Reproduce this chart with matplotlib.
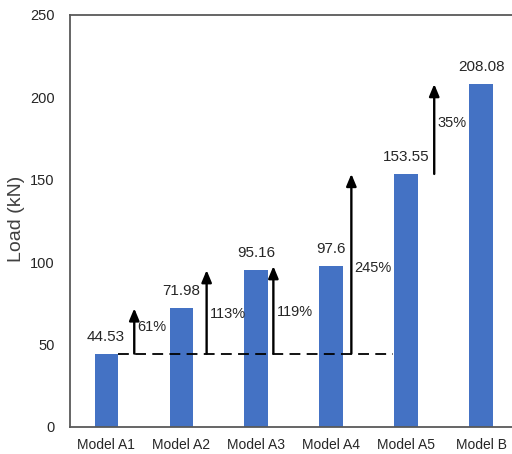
import numpy as np
import matplotlib.pyplot as plt

plt.rcParams['font.family'] = ['Liberation Sans', 'DejaVu Sans']

models = ['Model A1', 'Model A2', 'Model A3', 'Model A4', 'Model A5', 'Model B']
loads = [44.53, 71.98, 95.16, 97.6, 153.55, 208.08]
value_labels = ['44.53', '71.98', '95.16', '97.6', '153.55', '208.08']

# increase arrows: start value, end value, percent text
arrow_start = [44.53, 44.53, 44.53, 44.53, 153.55]
arrow_end = [71.98, 95.16, 97.6, 153.55, 208.08]
arrow_pct = ['61%', '113%', '119%', '245%', '35%']
arrow_dx = [0.375, 0.34, 0.23, 0.27, 0.375]
pct_y = [60.7, 68.6, 69.8, 96.5, 184.5]

x = np.arange(len(models))

fig = plt.figure(figsize=(5.12, 4.54), dpi=100)
ax = fig.add_axes([0.137, 0.0595, 0.87, 0.9075])

ax.bar(x, loads, width=0.31, color='#4472C4', zorder=2)
for xi, v, lab in zip(x, loads, value_labels):
    ax.text(xi, v + 6, lab, ha='center', va='bottom', fontsize=11, color='#262626')

# baseline at Model A1 load
ax.plot([x[0] + 0.155, x[4] - 0.17], [loads[0], loads[0]], ls=(0, (6, 3.5)),
        color='black', lw=1.3, zorder=3)

for i, (s, e, p, dx, py) in enumerate(zip(arrow_start, arrow_end, arrow_pct,
                                          arrow_dx, pct_y)):
    xa = x[i] + dx
    ax.annotate('', xy=(xa, e), xytext=(xa, s),
                arrowprops=dict(arrowstyle='-|>,head_length=0.6,head_width=0.25',
                                color='black', lw=1.7,
                                mutation_scale=12, shrinkA=0, shrinkB=0))
    ax.text(xa + 0.045, py, p, ha='left', va='center', fontsize=10.5,
            color='#262626')

ax.set_xlim(-0.48, 5.46)
ax.set_ylim(0, 250)
ax.set_yticks([0, 50, 100, 150, 200, 250])
ax.set_xticks(x)
ax.set_xticklabels(models)
ax.tick_params(axis='both', length=0, labelsize=10.5, colors='#262626')
ax.tick_params(axis='y', pad=11)
ax.tick_params(axis='x', pad=8, labelsize=10)
ax.set_ylabel('Load (kN)', fontsize=14, color='#404040')
ax.yaxis.set_label_coords(-0.101, 0.505)

for side in ['left', 'top', 'bottom']:
    ax.spines[side].set_color('#595959')
    ax.spines[side].set_linewidth(1.3)
ax.spines['right'].set_visible(False)

fig.savefig('out.png', dpi=100)
